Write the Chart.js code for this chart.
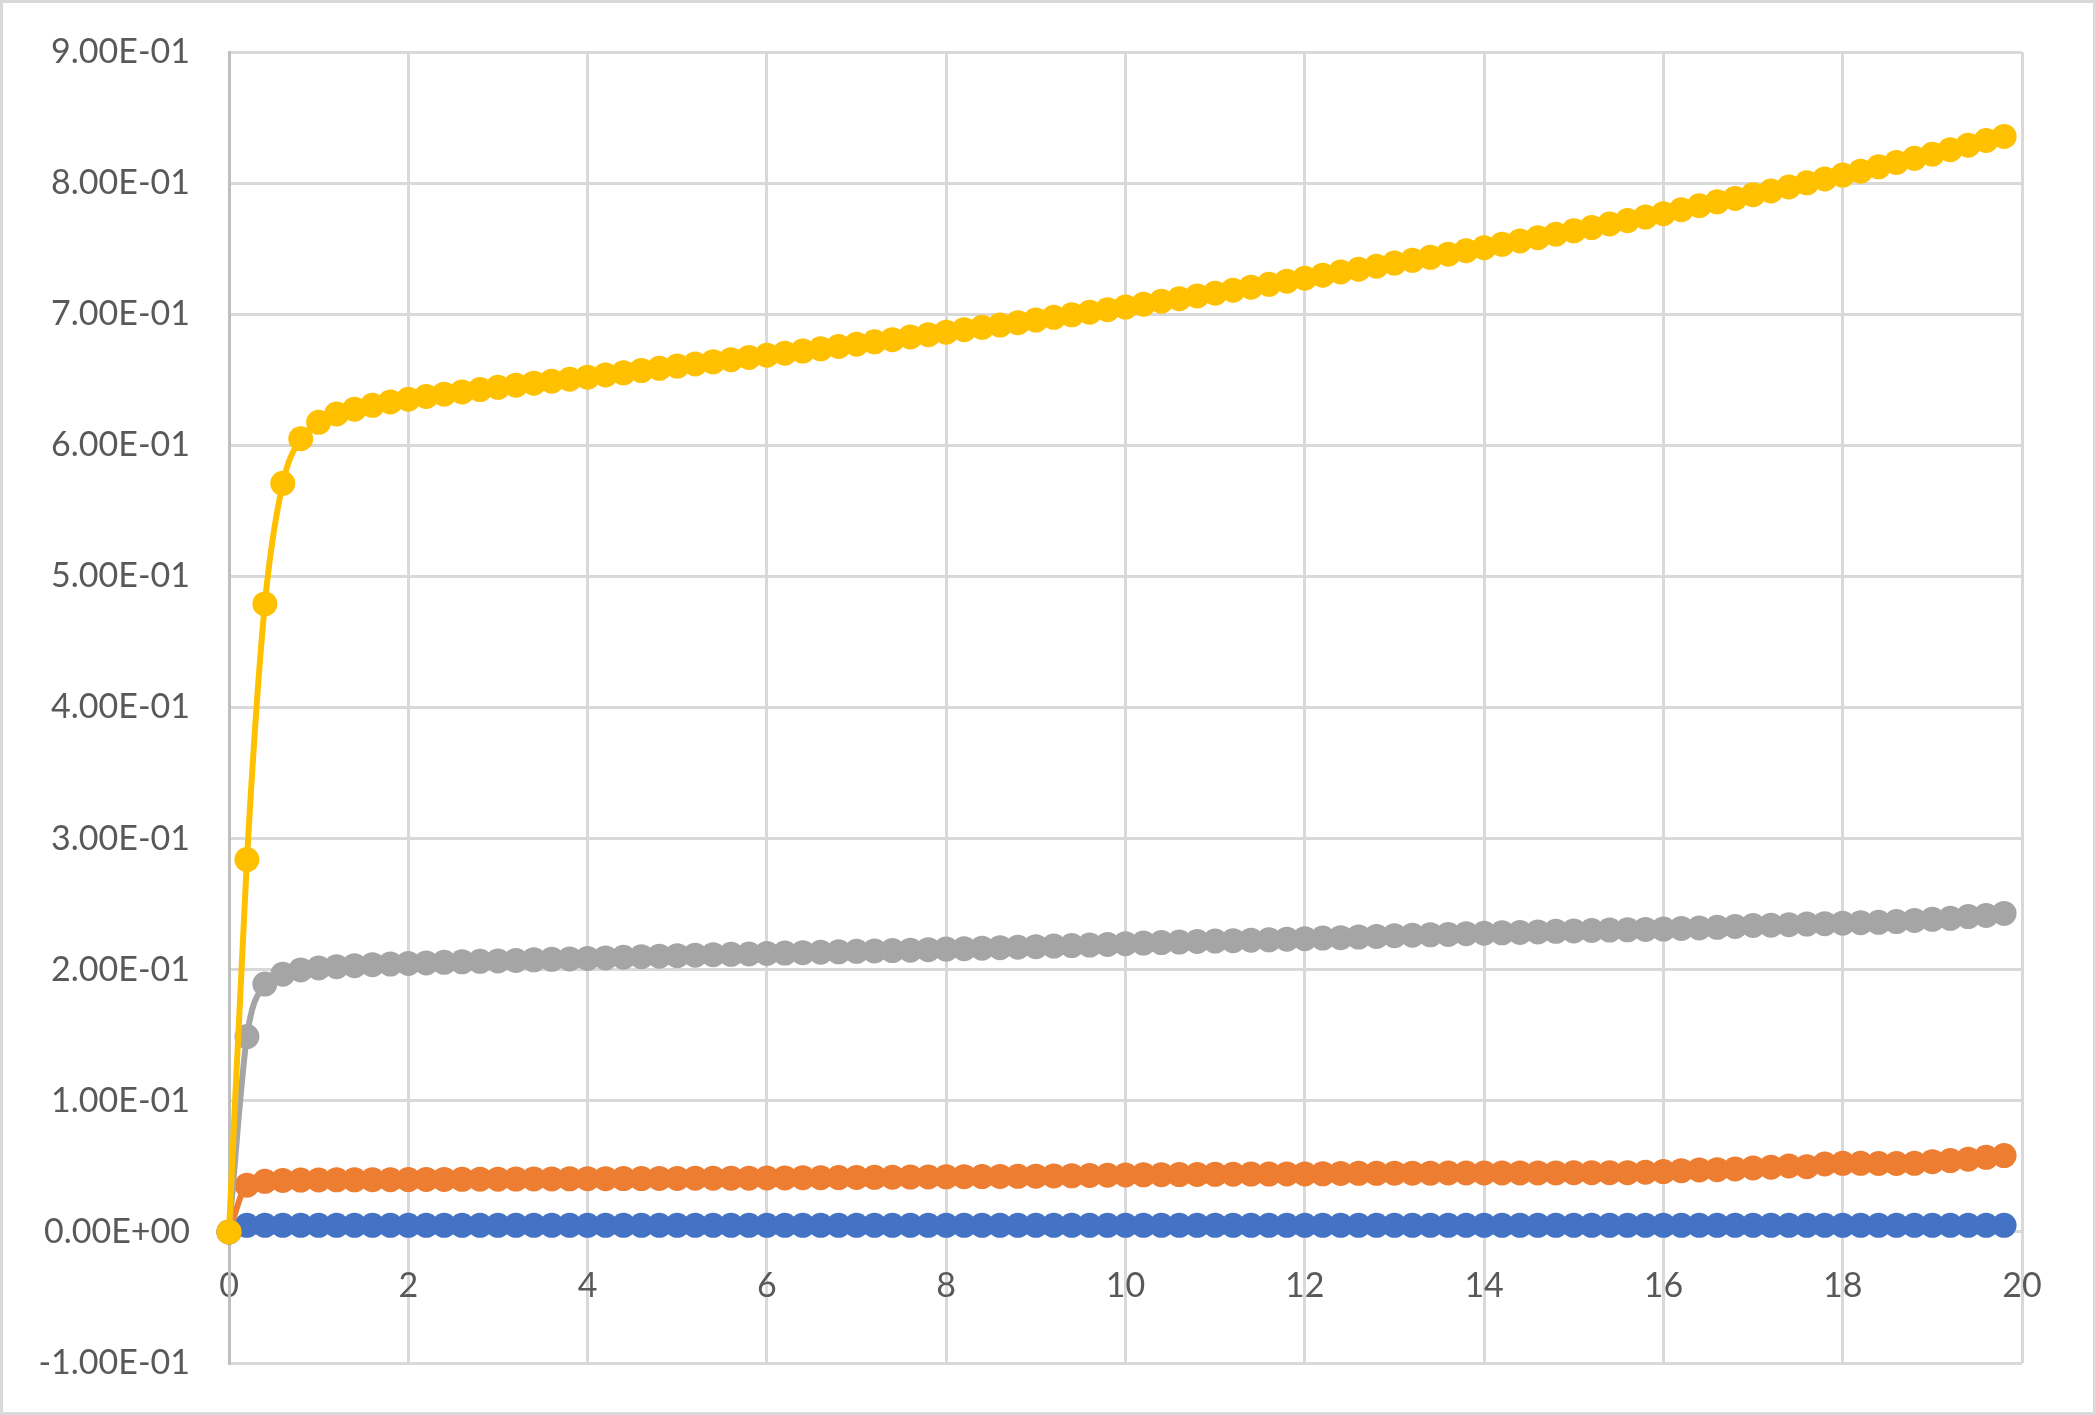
<!DOCTYPE html>
<html>
<head>
<meta charset="utf-8">
<script src="https://cdn.jsdelivr.net/npm/chart.js@4.4.1/dist/chart.umd.min.js"></script>
<style>
  html, body { margin: 0; padding: 0; background: #fff; overflow: hidden; }
  #wrap { position: relative; width: 2096px; height: 1415px; }
  #frame { position: absolute; left: 0; top: 0; width: 2096px; height: 1415px; box-sizing: border-box; border: 3px solid #d9d9d9; pointer-events: none; }
  canvas { display: block; }
</style>
</head>
<body>
<div id="wrap">
  <canvas id="plotCanvas" width="2096" height="1415"></canvas>
  <div id="frame"></div>
</div>
<script>
let chart;

// x values (t)
let xs = [
  0, 0.2, 0.4, 0.6, 0.8, 1, 1.2, 1.4, 1.6, 1.8,
  2, 2.2, 2.4, 2.6, 2.8, 3, 3.2, 3.4, 3.6, 3.8,
  4, 4.2, 4.4, 4.6, 4.8, 5, 5.2, 5.4, 5.6, 5.8,
  6, 6.2, 6.4, 6.6, 6.8, 7, 7.2, 7.4, 7.6, 7.8,
  8, 8.2, 8.4, 8.6, 8.8, 9, 9.2, 9.4, 9.6, 9.8,
  10, 10.2, 10.4, 10.6, 10.8, 11, 11.2, 11.4, 11.6, 11.8,
  12, 12.2, 12.4, 12.6, 12.8, 13, 13.2, 13.4, 13.6, 13.8,
  14, 14.2, 14.4, 14.6, 14.8, 15, 15.2, 15.4, 15.6, 15.8,
  16, 16.2, 16.4, 16.6, 16.8, 17, 17.2, 17.4, 17.6, 17.8,
  18, 18.2, 18.4, 18.6, 18.8, 19, 19.2, 19.4, 19.6, 19.8
];

// series 1 (blue)
let s1 = [
  0, 0.005, 0.005, 0.005, 0.005, 0.005, 0.005, 0.005, 0.005, 0.005,
  0.005, 0.005, 0.005, 0.005, 0.005, 0.005, 0.005, 0.005, 0.005, 0.005,
  0.005, 0.005, 0.005, 0.005, 0.005, 0.005, 0.005, 0.005, 0.005, 0.005,
  0.005, 0.005, 0.005, 0.005, 0.005, 0.005, 0.005, 0.005, 0.005, 0.005,
  0.005, 0.005, 0.005, 0.005, 0.005, 0.005, 0.005, 0.005, 0.005, 0.005,
  0.005, 0.005, 0.005, 0.005, 0.005, 0.005, 0.005, 0.005, 0.005, 0.005,
  0.005, 0.005, 0.005, 0.005, 0.005, 0.005, 0.005, 0.005, 0.005, 0.005,
  0.005, 0.005, 0.005, 0.005, 0.005, 0.005, 0.005, 0.005, 0.005, 0.005,
  0.005, 0.005, 0.005, 0.005, 0.005, 0.005, 0.005, 0.005, 0.005, 0.005,
  0.005, 0.005, 0.005, 0.005, 0.005, 0.005, 0.005, 0.005, 0.005, 0.005
];

// series 2 (orange)
let s2 = [
  0, 0.0356, 0.0386, 0.0393, 0.0395, 0.0396, 0.0397, 0.0397, 0.0398, 0.0398,
  0.0399, 0.04, 0.04, 0.0401, 0.0402, 0.0402, 0.0403, 0.0404, 0.0404, 0.0405,
  0.0406, 0.0406, 0.0407, 0.0407, 0.0408, 0.0408, 0.0409, 0.0409, 0.041, 0.041,
  0.0411, 0.0412, 0.0413, 0.0413, 0.0414, 0.0415, 0.0416, 0.0417, 0.0418, 0.0419,
  0.042, 0.0421, 0.0422, 0.0423, 0.0424, 0.0425, 0.0427, 0.0428, 0.043, 0.0432,
  0.0434, 0.0435, 0.0436, 0.0437, 0.0438, 0.0439, 0.044, 0.0441, 0.0441, 0.0442,
  0.0442, 0.0443, 0.0446, 0.0447, 0.0447, 0.0448, 0.0448, 0.0448, 0.0449, 0.0449,
  0.0449, 0.045, 0.045, 0.045, 0.045, 0.0451, 0.0451, 0.0451, 0.0452, 0.0455,
  0.046, 0.0467, 0.0473, 0.0475, 0.048, 0.0488, 0.0493, 0.0503, 0.0497, 0.0518,
  0.0523, 0.0523, 0.0522, 0.0522, 0.0523, 0.0536, 0.0544, 0.0554, 0.0569, 0.0582
];

// series 3 (gray)
let s3 = [
  0, 0.149, 0.189, 0.1966, 0.1998, 0.2013, 0.2023, 0.2031, 0.2038, 0.2043,
  0.2048, 0.2052, 0.2056, 0.206, 0.2064, 0.2067, 0.2071, 0.2075, 0.2079, 0.2082,
  0.2086, 0.209, 0.2095, 0.2099, 0.2103, 0.2107, 0.2111, 0.2114, 0.2117, 0.212,
  0.2124, 0.2127, 0.213, 0.2133, 0.2136, 0.214, 0.2143, 0.2146, 0.2149, 0.2153,
  0.2157, 0.216, 0.2164, 0.2168, 0.2172, 0.2176, 0.218, 0.2184, 0.2188, 0.2193,
  0.2198, 0.2203, 0.2207, 0.2211, 0.2215, 0.2218, 0.2221, 0.2225, 0.2228, 0.2233,
  0.2236, 0.2241, 0.2244, 0.2249, 0.2254, 0.2259, 0.2263, 0.2266, 0.2269, 0.2274,
  0.2278, 0.2281, 0.2284, 0.2288, 0.2293, 0.2296, 0.2299, 0.2302, 0.2304, 0.2307,
  0.231, 0.2315, 0.2318, 0.2323, 0.233, 0.2337, 0.234, 0.2343, 0.2348, 0.2351,
  0.2355, 0.2358, 0.2361, 0.2367, 0.2376, 0.2384, 0.2392, 0.2405, 0.2414, 0.2429
];

// series 4 (yellow)
let s4 = [
  0, 0.284, 0.479, 0.571, 0.605, 0.6175, 0.6239, 0.6275, 0.6305, 0.6331,
  0.6351, 0.6372, 0.639, 0.6407, 0.6425, 0.6442, 0.6458, 0.6474, 0.6489, 0.6504,
  0.652, 0.6536, 0.6553, 0.657, 0.6587, 0.6604, 0.662, 0.6637, 0.6653, 0.667,
  0.6687, 0.6703, 0.6719, 0.6736, 0.6754, 0.6771, 0.6789, 0.6806, 0.6826, 0.6843,
  0.6863, 0.6882, 0.69, 0.6917, 0.6935, 0.6955, 0.6976, 0.6995, 0.7015, 0.7034,
  0.7054, 0.7076, 0.7099, 0.7118, 0.7139, 0.716, 0.7183, 0.7206, 0.7228, 0.7252,
  0.7275, 0.7298, 0.7322, 0.7343, 0.7366, 0.739, 0.7411, 0.7434, 0.7458, 0.7484,
  0.7507, 0.7533, 0.7559, 0.7583, 0.761, 0.7636, 0.7661, 0.7688, 0.7714, 0.7741,
  0.7767, 0.7797, 0.7827, 0.7857, 0.7883, 0.7912, 0.794, 0.797, 0.8002, 0.8032,
  0.8061, 0.8091, 0.8124, 0.8158, 0.8189, 0.822, 0.8255, 0.8289, 0.8325, 0.8356
];

let seriesNames = ["Ряд1", "Ряд2", "Ряд3", "Ряд4"];
let seriesColors = ["#4472C4", "#ED7D31", "#A5A5A5", "#FFC000"];

// 9.00E-01 style labels
function sci(v) {
  if (Math.abs(v) < 1e-9) return "0.00E+00";
  let parts = v.toExponential(2).split("e");
  let e = parseInt(parts[1]);
  return parts[0] + "E" + (e < 0 ? "-" : "+") + String(Math.abs(e)).padStart(2, "0");
}

function makeDataset(ys, i) {
  return {
    label: seriesNames[i],
    data: xs.map((x, k) => ({ x: x, y: ys[k] })),
    borderColor: seriesColors[i],
    backgroundColor: seriesColors[i],
    pointBackgroundColor: seriesColors[i],
    pointBorderWidth: 0,
    pointRadius: 12.5,
    borderWidth: 6,
    cubicInterpolationMode: "monotone",
    clip: false,
    order: 4 - i,
  };
}

const tickFont = { family: "Lato", size: 34 };

function drawPlot(datasets) {
  const ctx = document.getElementById("plotCanvas").getContext("2d");
  chart = new Chart(ctx, {
    type: "line",
    data: { datasets: datasets },
    options: {
      responsive: false,
      devicePixelRatio: 1,
      animation: false,
      layout: { padding: { left: 0, right: 74, top: 52, bottom: 52 } },
      plugins: { legend: { display: false }, tooltip: { enabled: false } },
      scales: {
        x: {
          type: "linear",
          min: 0,
          max: 20,
          position: { y: 0 },
          ticks: { stepSize: 2, autoSkip: false, maxRotation: 0, padding: 34, color: "#595959", font: tickFont },
          grid: { color: "#d9d9d9", lineWidth: 3, drawTicks: false },
          border: { color: "#d9d9d9", width: 3 },
          afterFit: (s) => { s.height = 0; },
        },
        y: {
          type: "linear",
          min: -0.1,
          max: 0.9,
          // gap to the axis comes from an invisible tick mark, so it does not pad the chart area
          ticks: { stepSize: 0.1, padding: 0, color: "#595959", font: tickFont, callback: (v) => sci(v) },
          grid: { color: "#d9d9d9", lineWidth: 3, drawTicks: true, tickLength: 39, tickColor: "rgba(0,0,0,0)" },
          border: { color: "#bfbfbf", width: 3 },
          afterFit: (s) => { s.width = 229; },
        },
      },
    },
  });
}

drawPlot([s1, s2, s3, s4].map(makeDataset));
</script>
</body>
</html>
